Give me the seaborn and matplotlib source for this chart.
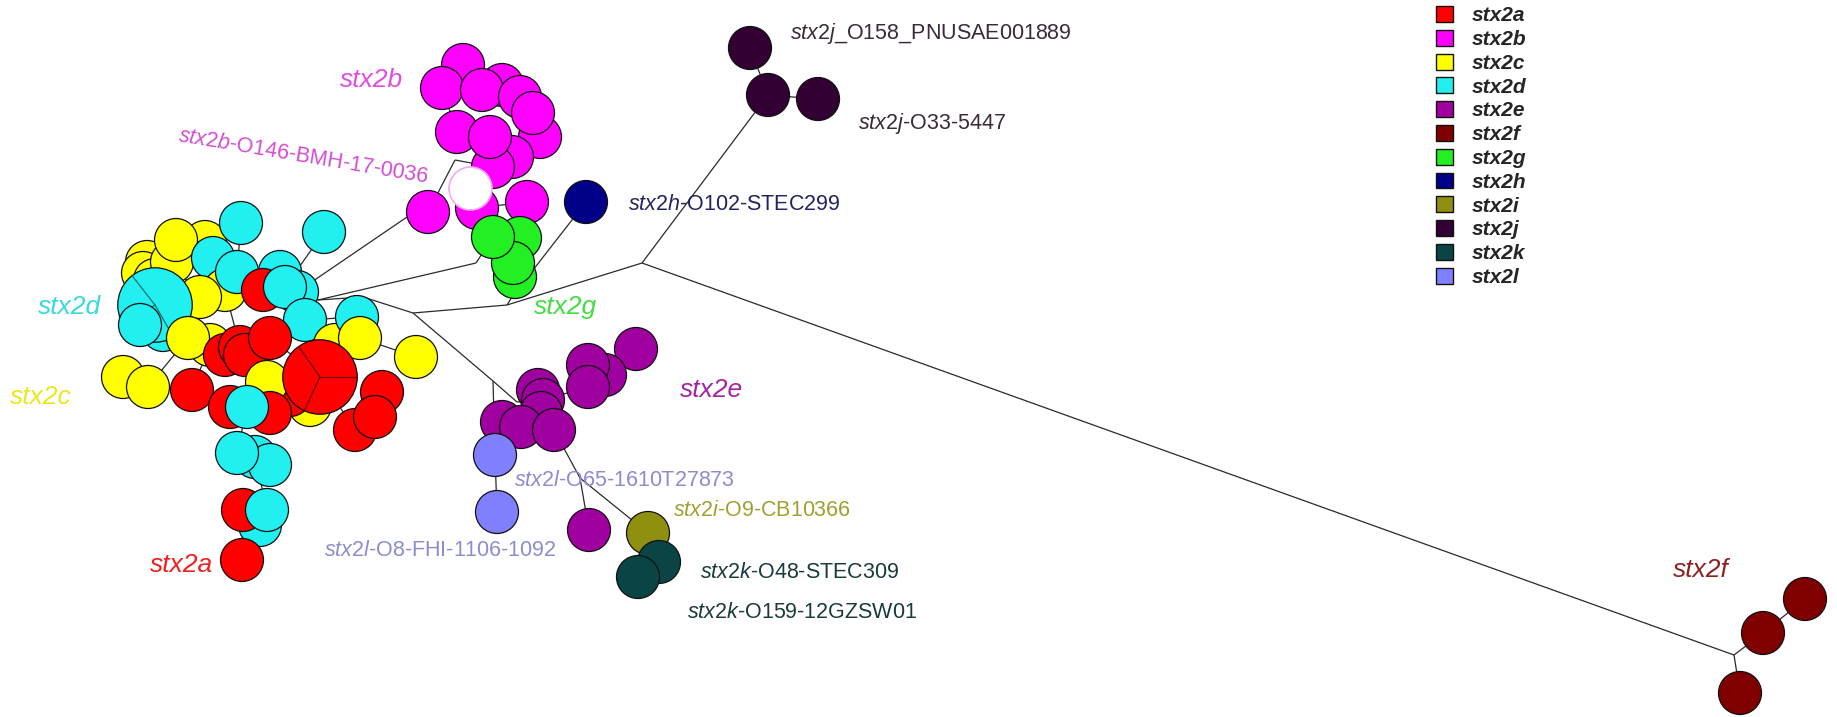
import matplotlib
matplotlib.use("Agg")
import matplotlib.pyplot as plt
from matplotlib.collections import LineCollection
from matplotlib.patches import Patch
import numpy as np
import pandas as pd
import seaborn as sns

sns.set_theme(style="white")
plt.rcParams["font.family"] = ["Liberation Sans", "DejaVu Sans"]
plt.rcParams["mathtext.fontset"] = "custom"
plt.rcParams["mathtext.it"] = "Liberation Sans:italic"
plt.rcParams["mathtext.rm"] = "Liberation Sans"
plt.rcParams["mathtext.bf"] = "Liberation Sans:bold"

# Stx2 subtypes and their colours
subtypes = ["stx2a", "stx2b", "stx2c", "stx2d", "stx2e", "stx2f",
            "stx2g", "stx2h", "stx2i", "stx2j", "stx2k", "stx2l"]
subtype_colors = ["#ff0000", "#ff00ff", "#ffff00", "#22f0f0", "#a000a0", "#800000",
                  "#22f022", "#000088", "#8f8f10", "#330033", "#0b4444", "#8080ff"]

# Tree nodes (profiles) in drawing order; "junction" = hidden branch point
node_ids = [
    # stx2c / stx2d / stx2a complex
    "c2", "c3", "c4", "c5", "c6", "c1", "d5", "d3", "c8", "d4", "d7", "a1", "d6", "c7",
    "d12", "d10", "d11", "c17", "c9", "d8", "c11", "d9", "c10", "c12", "a4", "a3", "a5",
    "a2", "c16", "a10", "c15", "a6", "a7", "a8", "a9", "d13", "a11", "a13", "a12", "c13",
    "c14", "d15", "d16", "d14", "d18", "a14", "d17", "a15", "d1", "d2",
    # stx2b
    "b5", "b2", "b3", "b4", "b6", "b8", "b7", "b9", "b11", "b12", "b10", "b14", "b13", "b1",
    # stx2g, stx2h, stx2j
    "g2", "g4", "g3", "g1", "h1", "j1", "j2", "j3",
    # stx2e, stx2l, stx2i, stx2k
    "e1", "e3", "e2", "e4", "e5", "e6", "e7", "e8", "e9", "e10", "e11",
    "l1", "l2", "i1", "k1", "k2",
    # stx2f
    "f1", "f2", "f3",
    # hidden branch points
    "H", "J6", "J3", "J2", "Jh", "J5", "J1", "Jf", "Jb", "Jm", "Jl", "Je", "Jk",
]
node_types = (
    ["stx2c"] * 6 + ["stx2d", "stx2d", "stx2c", "stx2d", "stx2d", "stx2a", "stx2d", "stx2c",
     "stx2d", "stx2d", "stx2d", "stx2c", "stx2c", "stx2d", "stx2c", "stx2d", "stx2c", "stx2c",
     "stx2a", "stx2a", "stx2a", "stx2a", "stx2c", "stx2a", "stx2c", "stx2a", "stx2a", "stx2a",
     "stx2a", "stx2d", "stx2a", "stx2a", "stx2a", "stx2c", "stx2c", "stx2d", "stx2d", "stx2d",
     "stx2d", "stx2a", "stx2d", "stx2a", "stx2d", "stx2d"]
    + ["stx2b"] * 14
    + ["stx2g"] * 4 + ["stx2h"] + ["stx2j"] * 3
    + ["stx2e"] * 11 + ["stx2l", "stx2l", "stx2i", "stx2k", "stx2k"]
    + ["stx2f"] * 3
    + ["junction"] * 13
)
node_x = [
    205, 147, 143, 155, 172, 176, 280, 213, 225, 237, 297, 263, 285, 200,
    163, 155, 140, 210, 188, 305, 335, 357, 360, 416, 225, 240, 245,
    270, 310, 290, 267, 320, 192, 230, 270, 247, 382, 355, 375, 123,
    148, 255, 270, 237, 260, 243, 267, 242, 241, 324,
    502, 463, 442, 482, 520, 540, 533, 457, 512, 493, 490, 527, 477, 428,
    520, 515, 513, 493, 586, 750, 768, 818,
    636, 605, 588, 588, 538, 543, 541, 502, 521, 554, 589,
    495, 497, 648, 659, 638,
    1805, 1763, 1740,
    318, 363, 413, 507, 512, 476, 642, 1734, 407, 455, 493, 517, 580,
]
node_y = [
    242, 262, 273, 280, 262, 240, 272, 258, 290, 272, 292, 290, 287, 297,
    330, 305, 325, 345, 338, 320, 345, 317, 338, 357, 355, 347, 355,
    338, 405, 395, 382, 377, 390, 407, 413, 407, 392, 430, 417, 377,
    387, 457, 465, 453, 525, 510, 510, 560, 223, 232,
    85, 65, 88, 90, 97, 137, 113, 132, 157, 167, 137, 202, 208, 212,
    238, 277, 263, 237, 202, 48, 95, 99,
    349, 375, 365, 387, 390, 400, 413, 422, 427, 430, 530,
    455, 512, 533, 562, 577,
    599, 633, 693,
    300, 297, 313, 305, 297, 263, 263, 655, 217, 160, 381, 402, 478,
]
node_counts = [1] * len(node_ids)
node_counts[node_ids.index("a6")] = 3
node_counts[node_ids.index("d10")] = 3

# Isolate of undetermined subtype inside the stx2b group
blank_x = [470]
blank_y = [188]

# Tree edges
edges = [
    # stx2c/d/a complex
    ("c1", "c6"), ("c6", "c3"), ("c3", "c4"), ("c4", "c5"), ("c6", "c2"), ("c6", "c7"),
    ("c7", "d10"), ("d10", "d11"), ("d10", "d12"), ("d12", "c9"), ("c9", "c17"),
    ("c9", "c14"), ("c14", "c13"), ("c7", "c8"), ("c8", "d3"), ("d3", "d4"), ("d4", "d1"),
    ("c8", "a1"), ("a1", "d5"), ("d5", "d6"), ("d6", "d2"), ("d6", "d7"), ("d7", "d8"),
    ("d8", "d9"), ("d9", "c11"), ("c11", "c10"), ("c10", "c12"), ("c8", "a3"),
    ("a3", "a4"), ("a3", "a5"), ("a5", "a2"), ("a2", "a6"), ("a6", "c16"), ("a6", "a10"),
    ("a6", "a13"), ("a13", "a12"), ("a12", "a11"), ("a5", "c15"), ("c17", "a7"),
    ("a7", "a8"), ("a8", "d13"), ("d13", "a9"), ("d13", "d14"), ("d14", "d15"),
    ("d15", "d16"), ("d15", "d17"), ("d17", "d18"), ("d17", "a14"), ("a14", "a15"),
    # backbone
    ("d7", "H"), ("H", "J5"), ("J5", "g1"), ("H", "J6"), ("J6", "J3"), ("J3", "J2"),
    ("J2", "J1"), ("J1", "j2"), ("j2", "j1"), ("j2", "j3"),
    ("J1", "Jf"), ("Jf", "f2"), ("f2", "f1"), ("Jf", "f3"),
    ("J2", "Jh"), ("Jh", "h1"), ("g1", "g2"), ("g1", "g3"), ("g3", "g4"),
    # stx2b
    ("d7", "Jb"), ("Jb", "b1"), ("b1", "Jm"), ("Jm", "b12"), ("b12", "b11"),
    ("b11", "b10"), ("b10", "b9"), ("b9", "b3"), ("b3", "b2"), ("b2", "b4"),
    ("b4", "b5"), ("b5", "b6"), ("b6", "b7"), ("b7", "b8"), ("b13", "b14"),
    # stx2e / l / i / k
    ("J3", "Jl"), ("Jl", "Je"), ("Jl", "l1"), ("l1", "l2"), ("Je", "e6"),
    ("e6", "e5"), ("e6", "e7"), ("e7", "e9"), ("e9", "e8"), ("e7", "e10"),
    ("e6", "e4"), ("e4", "e2"), ("e2", "e3"), ("e3", "e1"),
    ("e10", "Jk"), ("Jk", "e11"), ("Jk", "i1"), ("i1", "k1"), ("k1", "k2"),
]

# Group captions
group_labels = ["stx2b", "stx2d", "stx2c", "stx2a", "stx2g", "stx2e", "stx2f"]
group_x = [371, 69, 41, 182, 565, 711, 1701]
group_y = [80, 307, 397, 565, 307, 390, 570]
group_colors = ["#e04ee0", "#3adada", "#e8e820", "#ee2020", "#44dd44", "#a424a4", "#8b2222"]

# Reference strain captions (italic subtype + strain name)
strain_sub = ["stx2h", "stx2j", "stx2j", "stx2l", "stx2i", "stx2l", "stx2k", "stx2k"]
strain_rest = ["-O102-STEC299", "_O158_PNUSAE001889", "-O33-5447", "-O65-1610T27873",
               "-O9-CB10366", "-O8-FHI-1106-1092", "-O48-STEC309", "-O159-12GZSW01"]
strain_x = [628, 790, 858, 514, 673, 324, 700, 687]
strain_y = [205, 33, 123, 480, 510, 550, 573, 613]
strain_colors = ["#23235f", "#3a2a3a", "#3a2a3a", "#8c8cd0", "#a0a030", "#8c8cd0",
                 "#1a3b3b", "#1a3b3b"]

nodes = pd.DataFrame({"id": node_ids, "subtype": node_types, "x": node_x,
                      "y": node_y, "count": node_counts})
pos = {r.id: (r.x, r.y) for r in nodes.itertuples()}

W, H_PX, DPI = 1837, 717, 100
fig = plt.figure(figsize=(W / DPI, H_PX / DPI), dpi=DPI)
ax = fig.add_axes([0, 0, 1, 1])
ax.set_xlim(0, W)
ax.set_ylim(H_PX, 0)
ax.axis("off")

# branches
segs = [[pos[a], pos[b]] for a, b in edges]
ax.add_collection(LineCollection(segs, colors="#2a2a2a", linewidths=0.9, zorder=1))

# nodes: diameter grows with sqrt(count); 1 data unit = 1 pixel
base_diam_px = 43
px2pt = 72 / DPI
size_map = {c: (base_diam_px * np.sqrt(c) * px2pt) ** 2 for c in sorted(set(node_counts))}
drawn = nodes[nodes["subtype"] != "junction"].reset_index(drop=True)
palette = dict(zip(subtypes, subtype_colors))
slice_angles = {"a6": [125, 0, 245], "d10": [128, 300, 215]}
slice_colors = {"stx2a": "#6a0000", "stx2d": "#147070"}

# draw nodes in order; multi-isolate nodes get their slice borders before
# later nodes are stacked on top
breaks = [i + 1 for i in drawn.index[drawn["count"] > 1]]
starts = [0] + breaks
ends = breaks + [len(drawn)]
z = 2.0
for s0, s1 in zip(starts, ends):
    chunk = drawn.iloc[s0:s1]
    if chunk.empty:
        continue
    sns.scatterplot(data=chunk, x="x", y="y", hue="subtype", palette=palette,
                    size="count", sizes=size_map, edgecolor="#101010", linewidth=0.9,
                    alpha=1, legend=False, ax=ax, zorder=z)
    last = chunk.iloc[-1]
    if last["count"] > 1:
        rad = base_diam_px * np.sqrt(last["count"]) / 2
        for ang in np.deg2rad(slice_angles[last["id"]]):
            ax.plot([last["x"], last["x"] + rad * np.cos(ang)],
                    [last["y"], last["y"] - rad * np.sin(ang)],
                    color=slice_colors[last["subtype"]], lw=0.9, zorder=z + 0.05)
    z += 0.1
sns.scatterplot(x=blank_x, y=blank_y, color="white", s=size_map[1],
                edgecolor="#f4a8f4", linewidth=1.2, legend=False, ax=ax, zorder=z)

# group captions
for t, x, y, c in zip(group_labels, group_x, group_y, group_colors):
    ax.text(x, y, t, color=c, fontsize=19, style="italic", ha="center", va="center",
            zorder=10)
ax.text(303, 157, r"$\mathit{stx2b}$-O146-BMH-17-0036", color="#d24ed2", fontsize=15.5,
        rotation=-9.5, ha="center", va="center", zorder=10)

for s, rest, x, y, c in zip(strain_sub, strain_rest, strain_x, strain_y, strain_colors):
    ax.text(x, y, rf"$\mathit{{{s}}}${rest}", color=c, fontsize=15.5, ha="left",
            va="center", zorder=10)

# legend
handles = [Patch(facecolor=c, edgecolor="#111111", linewidth=1.0, label=s)
           for s, c in zip(subtypes, subtype_colors)]
leg = fig.legend(handles=handles, loc="upper left", bbox_to_anchor=(1436 / W, 1 - 6 / H_PX),
                 frameon=False, handlelength=0.8, handleheight=0.8, handletextpad=0.9,
                 labelspacing=0.22, borderpad=0, borderaxespad=0,
                 prop={"size": 15, "style": "italic", "weight": "bold"})

fig.savefig("out.png", dpi=DPI, facecolor="white")
